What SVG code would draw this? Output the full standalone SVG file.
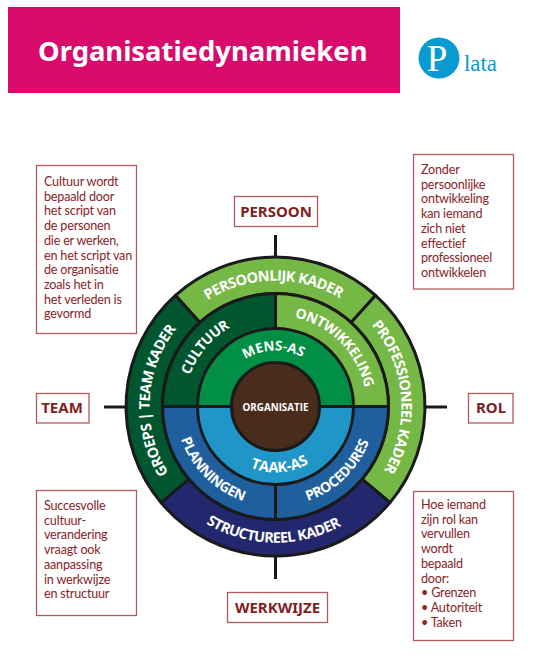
<svg xmlns="http://www.w3.org/2000/svg" width="539" height="667" viewBox="0 0 539 667">
<style>
.note{font-family:"Lato","Noto Sans",sans-serif;font-size:12.6px;letter-spacing:-.2px;fill:#8a2327}
.box{fill:#fff;stroke:#b5595d;stroke-width:1.3}
.head{font-family:"Noto Sans","Liberation Sans",sans-serif;font-weight:700;font-size:15px;fill:#7f1d20;text-anchor:middle}
.seg{stroke:#1a1a1a;stroke-width:3;stroke-linejoin:round}
.arc{font-family:"Open Sans","Noto Sans",sans-serif;font-weight:700;fill:#fff;text-anchor:middle}
.a1{font-size:14.5px;letter-spacing:-.6px}.a2{font-size:14px;letter-spacing:-.4px}.a3{font-size:13.5px}.a4{font-size:14.5px}
.tick{stroke:#1a1a1a;stroke-width:3;fill:none}
</style>
<defs>
<path id="cw126" d="M151.4,428.4A126,126 0 1 1 399.6,428.4"/>
<path id="cw91" d="M185.9,422.3A91,91 0 1 1 365.1,422.3"/>
<path id="cw56" d="M220.35,416.2A56,56 0 1 1 330.65,416.2"/>
<path id="ccw136" d="M141.6,382.9A136,136 0 1 0 409.4,382.9"/>
<path id="ccw100" d="M177,389.1A100,100 0 1 0 374,389.1"/>
<path id="ccw66" d="M210.5,395A66,66 0 1 0 340.5,395"/>
</defs>
<rect width="539" height="667" fill="#fff"/>
<g id="header">
<rect x="8" y="7" width="392" height="86" fill="#d80b6d"/>
<text x="38" y="61" font-family="'Noto Sans','Liberation Sans',sans-serif" font-weight="700" font-size="27.4" fill="#fff">Organisatiedynamieken</text>
</g>
<g id="logo">
<circle cx="439" cy="58" r="20.5" fill="#0a9ad2"/>
<text x="437" y="71" font-family="'Liberation Serif',serif" font-size="37" fill="#fff" text-anchor="middle">P</text>
<text x="464" y="71" font-family="'Liberation Serif',serif" font-size="23" fill="#0a9ad2" textLength="33" lengthAdjust="spacingAndGlyphs">lata</text>
</g>
<g id="connectors">
<path class="tick" d="M275.5,235V257M275.5,555V579M104,407H127M425,407H447"/>
</g>
<g id="wheel">
<g id="ring-outer">
<path class="seg" fill="#76b845" d="M175.5,295.4A149.5,149.5 0 0 1 375.5,295.4L351.1,322.5A113,113 0 0 0 199.9,322.5Z"/>
<path class="seg" fill="#76b845" d="M375.5,295.4A149.5,149.5 0 0 1 390,502.6L362.1,479.1A113,113 0 0 0 351.1,322.5Z"/>
<path class="seg" fill="#23286e" d="M390,502.6A149.5,149.5 0 0 1 161,502.6L188.9,479.1A113,113 0 0 0 362.1,479.1Z"/>
<path class="seg" fill="#00572f" d="M161,502.6A149.5,149.5 0 0 1 175.5,295.4L199.9,322.5A113,113 0 0 0 188.9,479.1Z"/>
</g>
<g id="ring-middle">
<path class="seg" fill="#00572f" d="M162.5,406.5A113,113 0 0 1 275.5,293.5V406.5Z"/>
<path class="seg" fill="#76b845" d="M275.5,293.5A113,113 0 0 1 388.5,406.5H275.5Z"/>
<path class="seg" fill="#1f5f9e" d="M388.5,406.5A113,113 0 0 1 275.5,519.5V406.5Z"/>
<path class="seg" fill="#1f5f9e" d="M275.5,519.5A113,113 0 0 1 162.5,406.5H275.5Z"/>
</g>
<g id="ring-inner">
<path class="seg" fill="#008f45" d="M197.5,406.5A78,78 0 0 1 353.5,406.5Z"/>
<path class="seg" fill="#2096c8" d="M353.5,406.5A78,78 0 0 1 197.5,406.5Z"/>
</g>
<g id="organisatie">
<circle class="seg" cx="275.5" cy="406.5" r="44" fill="#4a2c1d"/>
<text x="275.5" y="411" text-anchor="middle" font-family="'Open Sans','Noto Sans',sans-serif" font-weight="700" font-size="9.8" fill="#fff">ORGANISATIE</text>
</g>
<text class="arc a1" transform="rotate(-1 275.5 406.5)"><textPath href="#cw126" startOffset="50%">PERSOONLIJK KADER</textPath></text>
<text class="arc a1" transform="rotate(85 275.5 406.5)"><textPath href="#cw126" startOffset="50%">PROFESSIONEEL KADER</textPath></text>
<text class="arc a1" transform="rotate(273 275.5 406.5)"><textPath href="#cw126" startOffset="50%">GROEPS | TEAM KADER</textPath></text>
<text class="arc a1" transform="rotate(1 275.5 406.5)"><textPath href="#ccw136" startOffset="50%">STRUCTUREEL KADER</textPath></text>
<text class="arc a2" transform="rotate(310 275.5 406.5)"><textPath href="#cw91" startOffset="50%">CULTUUR</textPath></text>
<text class="arc a2" transform="rotate(45 275.5 406.5)"><textPath href="#cw91" startOffset="50%">ONTWIKKELING</textPath></text>
<text class="arc a2" transform="rotate(-44 275.5 406.5)"><textPath href="#ccw100" startOffset="50%">PROCEDURES</textPath></text>
<text class="arc a2" transform="rotate(45 275.5 406.5)"><textPath href="#ccw100" startOffset="50%">PLANNINGEN</textPath></text>
<text class="arc a3" transform="rotate(-2 275.5 406.5)"><textPath href="#cw56" startOffset="50%">MENS-AS</textPath></text>
<text class="arc a4" transform="rotate(-4 275.5 406.5)"><textPath href="#ccw66" startOffset="50%">TAAK-AS</textPath></text>
</g>
<g id="persoon"><rect class="box" x="234.5" y="196.5" width="83" height="30"/><text class="head" x="276" y="216.5">PERSOON</text></g>
<g id="werkwijze"><rect class="box" x="227.5" y="592.5" width="100" height="30"/><text class="head" x="277.5" y="612.5">WERKWIJZE</text></g>
<g id="team"><rect class="box" x="36.5" y="393.5" width="52.5" height="29.5"/><text class="head" x="62" y="413">TEAM</text></g>
<g id="rol"><rect class="box" x="468.5" y="393.5" width="44.5" height="29.5"/><text class="head" x="491" y="413">ROL</text></g>
<g id="note-cultuur"><rect class="box" x="36.5" y="165.5" width="100" height="168"/>
<text class="note"><tspan x="44" y="186">Cultuur wordt</tspan><tspan x="44" dy="14.7">bepaald door</tspan><tspan x="44" dy="14.7">het script van</tspan><tspan x="44" dy="14.7">de personen</tspan><tspan x="44" dy="14.7">die er werken,</tspan><tspan x="44" dy="14.7">en het script van</tspan><tspan x="44" dy="14.7">de organisatie</tspan><tspan x="44" dy="14.7">zoals het in</tspan><tspan x="44" dy="14.7">het verleden is</tspan><tspan x="44" dy="14.7">gevormd</tspan></text></g>
<g id="note-ontwikkeling"><rect class="box" x="413.5" y="154.5" width="100" height="134.5"/>
<text class="note"><tspan x="421" y="174">Zonder</tspan><tspan x="421" dy="14.7">persoonlijke</tspan><tspan x="421" dy="14.7">ontwikkeling</tspan><tspan x="421" dy="14.7">kan iemand</tspan><tspan x="421" dy="14.7">zich niet</tspan><tspan x="421" dy="14.7">effectief</tspan><tspan x="421" dy="14.7">professioneel</tspan><tspan x="421" dy="14.7">ontwikkelen</tspan></text></g>
<g id="note-verandering"><rect class="box" x="36.5" y="490.5" width="100" height="125"/>
<text class="note"><tspan x="44" y="510">Succesvolle</tspan><tspan x="44" dy="14.7">cultuur-</tspan><tspan x="44" dy="14.7">verandering</tspan><tspan x="44" dy="14.7">vraagt ook</tspan><tspan x="44" dy="14.7">aanpassing</tspan><tspan x="44" dy="14.7">in werkwijze</tspan><tspan x="44" dy="14.7">en structuur</tspan></text></g>
<g id="note-rol"><rect class="box" x="413.5" y="491.5" width="100" height="149"/>
<text class="note"><tspan x="421" y="509">Hoe iemand</tspan><tspan x="421" dy="14.7">zijn rol kan</tspan><tspan x="421" dy="14.7">vervullen</tspan><tspan x="421" dy="14.7">wordt</tspan><tspan x="421" dy="14.7">bepaald</tspan><tspan x="421" dy="14.7">door:</tspan><tspan x="421" dy="14.7">• Grenzen</tspan><tspan x="421" dy="14.7">• Autoriteit</tspan><tspan x="421" dy="14.7">• Taken</tspan></text></g>
</svg>
